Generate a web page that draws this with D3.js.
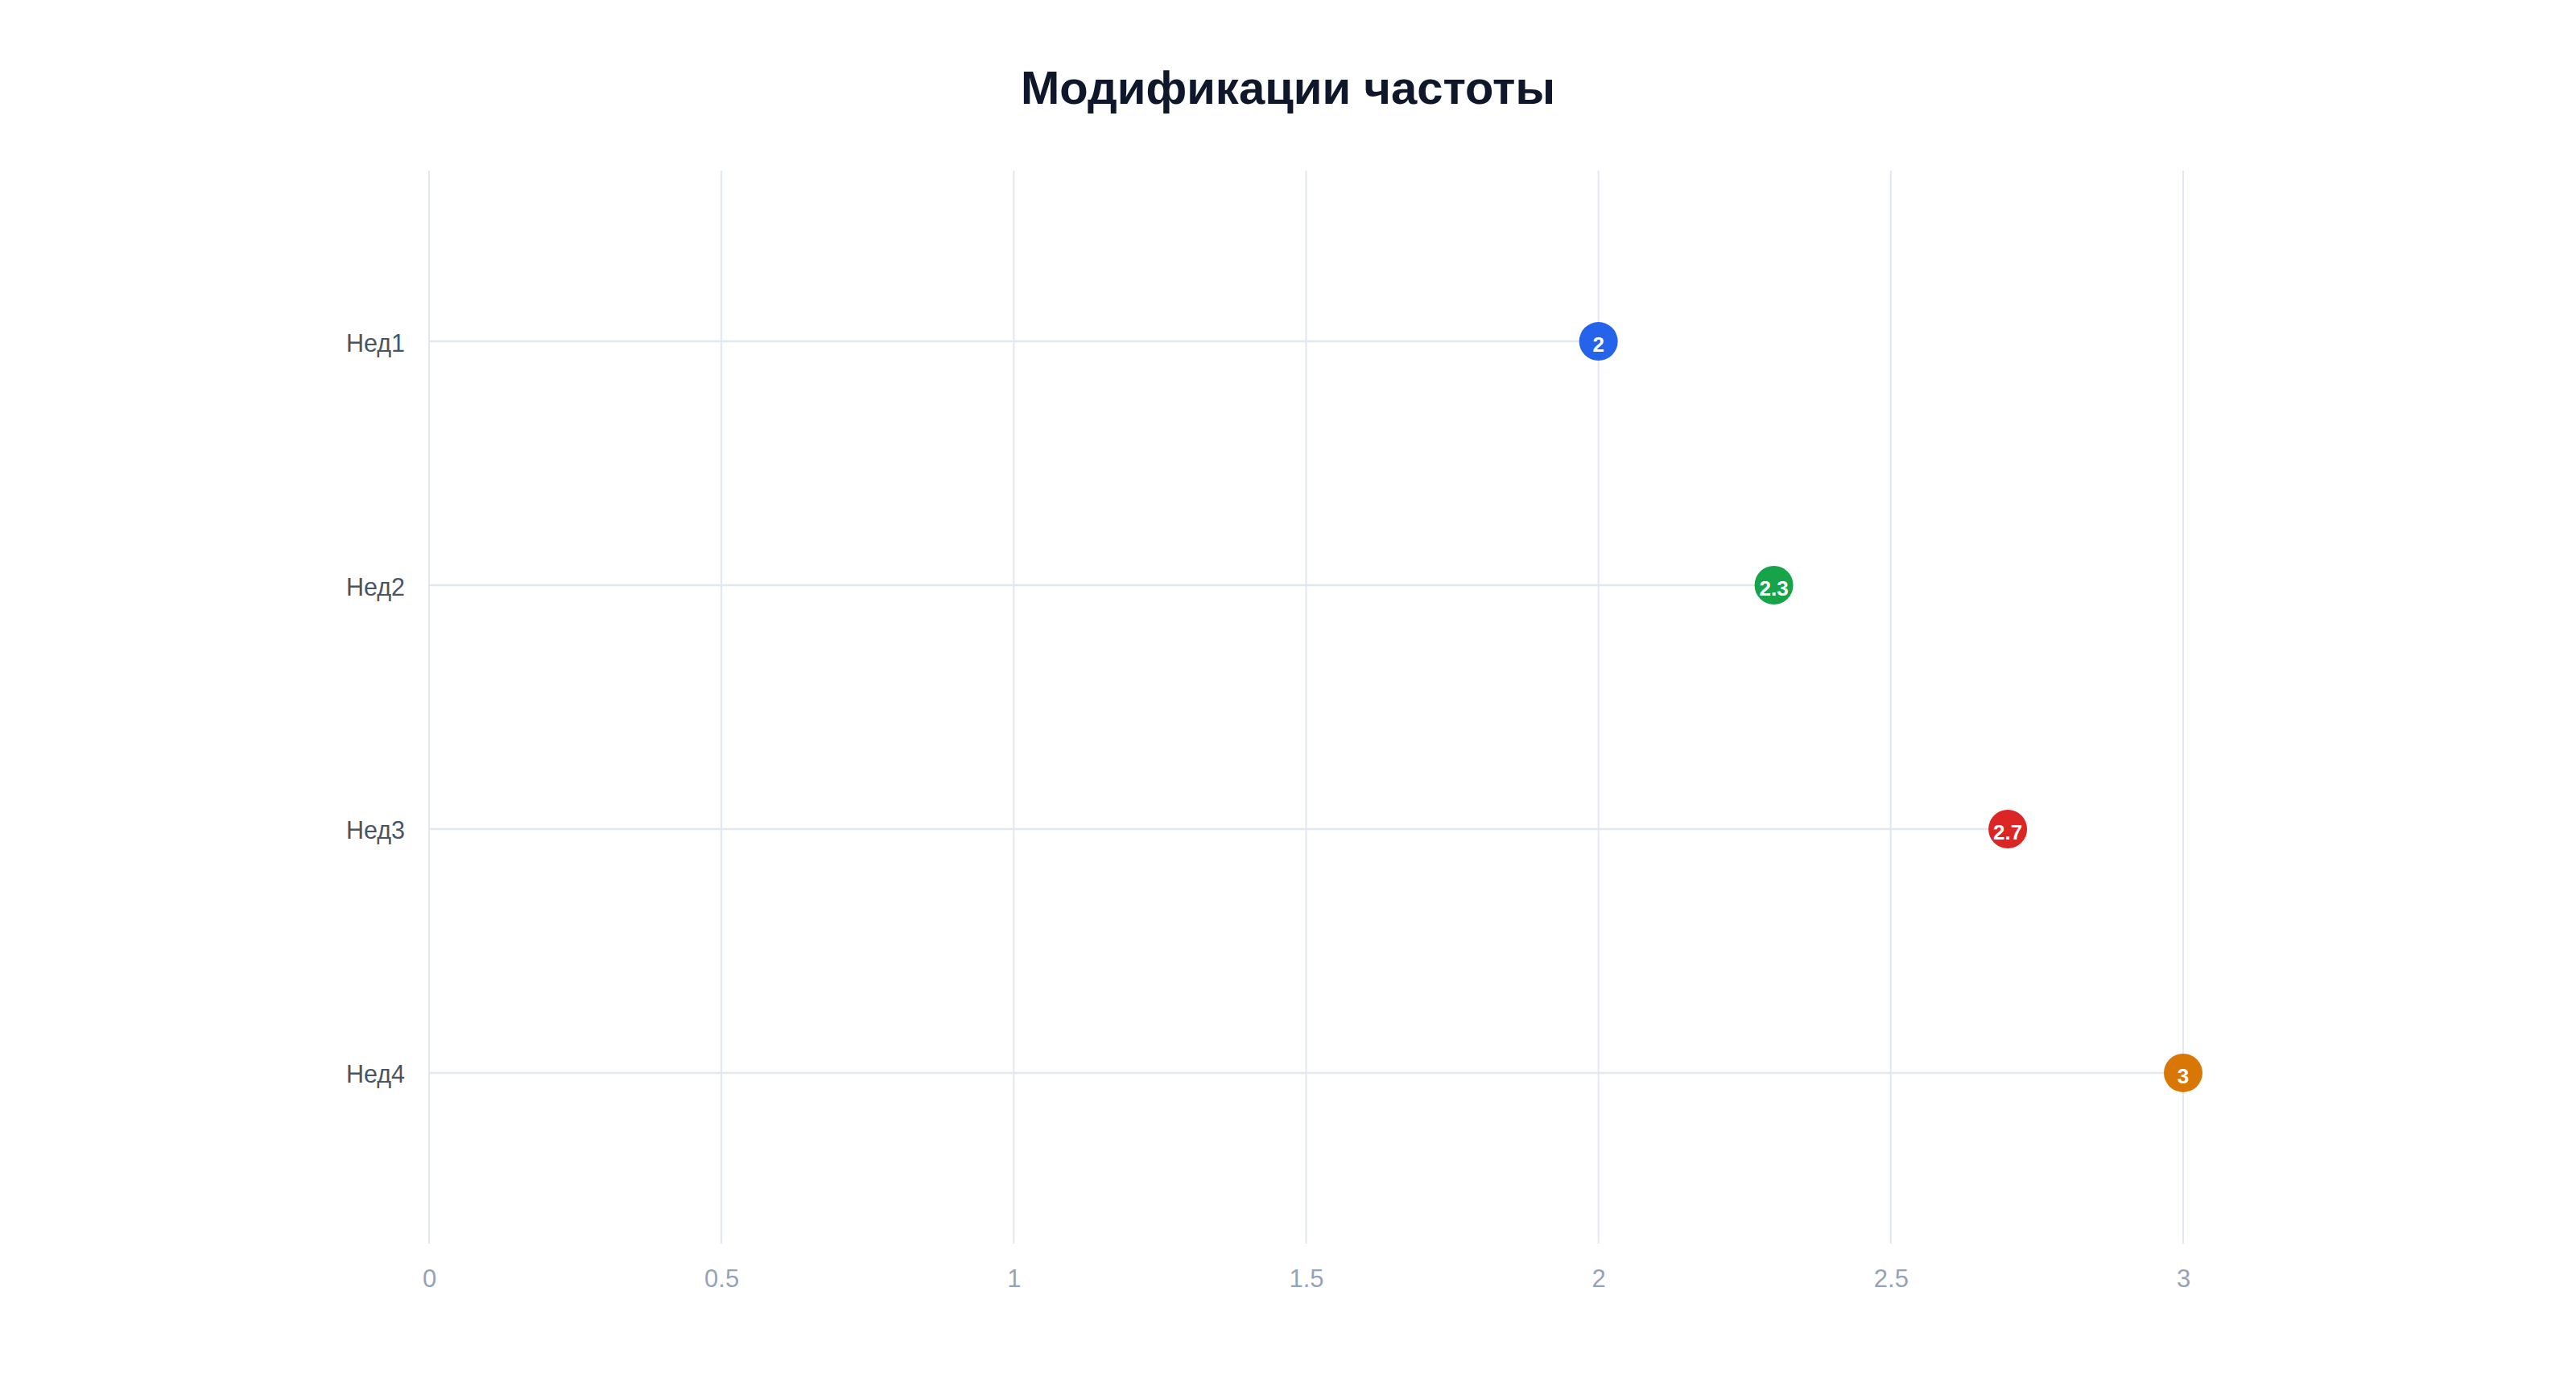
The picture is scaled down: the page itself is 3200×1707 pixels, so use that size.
<!DOCTYPE html>
<html>
<head>
<meta charset="utf-8">
<script src="https://cdn.jsdelivr.net/npm/d3@7/dist/d3.min.js"></script>
<style>
  html, body { margin: 0; padding: 0; background: #ffffff; }
  svg { display: block; font-family: "Liberation Sans", Arial, Helvetica, sans-serif; }
</style>
</head>
<body>
<svg id="chart" width="3200" height="1707"></svg>
<script>
const title = "Модификации частоты";
const categories = ["Нед1", "Нед2", "Нед3", "Нед4"];
const values = [2, 2.3, 2.7, 3];
const colors = ["#2563eb", "#16a34a", "#dc2626", "#d97706"];
const xTicks = [0, 0.5, 1, 1.5, 2, 2.5, 3];

const W = 3200, H = 1707;
const margin = { top: 212, right: 488, bottom: 162, left: 533 };
const svg = d3.select("#chart");

const x = d3.scaleLinear().domain([0, 3]).range([margin.left, W - margin.right]);
const y = d3.scalePoint().domain(categories).range([margin.top, H - margin.bottom]).padding(0.7);

// title
svg.append("text")
  .attr("x", W / 2).attr("y", 129)
  .attr("text-anchor", "middle")
  .attr("font-size", 58).attr("font-weight", "bold")
  .attr("fill", "#0f172a")
  .text(title);

// vertical grid
svg.append("g").selectAll("line").data(xTicks).join("line")
  .attr("x1", d => x(d)).attr("x2", d => x(d))
  .attr("y1", margin.top).attr("y2", H - margin.bottom)
  .attr("stroke", "#e2e8f0").attr("stroke-width", 2);

// x axis labels
const xAxis = d3.axisBottom(x).tickValues(xTicks).tickSize(0).tickPadding(0).tickFormat(d3.format("~g"));
const gx = svg.append("g").attr("transform", `translate(0,${H - margin.bottom})`).call(xAxis);
gx.select(".domain").remove();
gx.selectAll("text").attr("font-size", 31).attr("fill", "#94a3b8")
  .attr("font-family", "Liberation Sans, Arial, sans-serif")
  .attr("dy", null).attr("y", 54);

// y axis labels
const yAxis = d3.axisLeft(y).tickSize(0).tickPadding(30);
const gy = svg.append("g").attr("transform", `translate(${margin.left},0)`).call(yAxis);
gy.select(".domain").remove();
gy.selectAll("text").attr("font-size", 30.5).attr("fill", "#475569")
  .attr("font-family", "Liberation Sans, Arial, sans-serif")
  .attr("dy", null).attr("y", 12);

const data = categories.map((c, i) => ({ c, v: values[i], color: colors[i] }));

// stems
svg.append("g").selectAll("line").data(data).join("line")
  .attr("x1", x(0)).attr("x2", d => x(d.v))
  .attr("y1", d => y(d.c)).attr("y2", d => y(d.c))
  .attr("stroke", "#e2e8f0").attr("stroke-width", 2.5);

// dots
svg.append("g").selectAll("circle").data(data).join("circle")
  .attr("cx", d => x(d.v)).attr("cy", d => y(d.c)).attr("r", 24)
  .attr("fill", d => d.color);

// value labels
svg.append("g").selectAll("text").data(data).join("text")
  .attr("x", d => x(d.v)).attr("y", d => y(d.c) + 13)
  .attr("text-anchor", "middle")
  .attr("font-size", 26).attr("font-weight", "bold")
  .attr("fill", "#ffffff")
  .text(d => d3.format("~g")(d.v));
</script>
</body>
</html>
